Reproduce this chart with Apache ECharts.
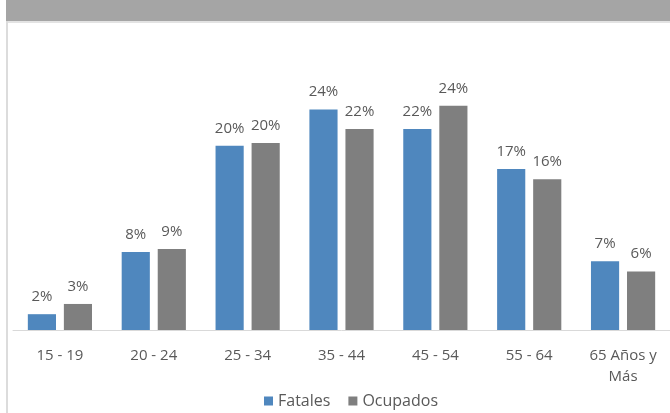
<!DOCTYPE html>
<html>
<head>
<meta charset="utf-8">
<script src="https://cdn.jsdelivr.net/npm/echarts@6/dist/echarts.min.js"></script>
<style>
html,body{margin:0;padding:0;background:#fff;}
#chart{width:670px;height:413px;}
</style>
</head>
<body>
<div id="chart"></div>
<script>
var categories = ['15 - 19', '20 - 24', '25 - 34', '35 - 44', '45 - 54', '55 - 64', '65 Años y\nMás'];
var fatales = [1.7, 8.4, 19.8, 23.7, 21.6, 17.3, 7.4];
var ocupados = [2.8, 8.7, 20.1, 21.6, 24.1, 16.2, 6.3];
var seriesNames = ['Fatales', 'Ocupados'];

var FONT = '"Open Sans", sans-serif';
var chart = echarts.init(document.getElementById('chart'));
function pct(p) { return Math.round(p.value) + '%'; }
chart.setOption({
  animation: false,
  backgroundColor: '#ffffff',
  graphic: [
    { type: 'rect', shape: { x: 6, y: 0, width: 664, height: 21 }, style: { fill: '#a5a5a5' } },
    { type: 'rect', shape: { x: 6, y: 21, width: 664, height: 2 }, style: { fill: '#e3e3e3' } },
    { type: 'rect', shape: { x: 6, y: 21, width: 2, height: 392 }, style: { fill: '#dcdcdc' } }
  ],
  legend: {
    data: seriesNames,
    left: 259,
    top: 388,
    itemWidth: 9,
    itemHeight: 9,
    itemGap: 18,
    icon: 'rect',
    textStyle: { color: '#595959', fontSize: 16, fontFamily: FONT }
  },
  grid: { left: 13, right: 0, top: 51, bottom: 83, containLabel: false },
  xAxis: {
    type: 'category',
    data: categories,
    axisLine: { lineStyle: { color: '#d9d9d9', width: 1 } },
    axisTick: { show: false },
    axisLabel: { color: '#595959', fontSize: 15, fontFamily: FONT, margin: 15, lineHeight: 21, interval: 0 }
  },
  yAxis: {
    type: 'value', min: 0, max: 30, show: false,
    splitLine: { show: false }
  },
  series: [
    {
      name: seriesNames[0], type: 'bar', data: fatales,
      barWidth: '30%', barGap: '28%',
      itemStyle: { color: '#4f87be' },
      label: { show: true, position: 'top', distance: 10, formatter: pct, color: '#595959', fontSize: 15, fontFamily: FONT }
    },
    {
      name: seriesNames[1], type: 'bar', data: ocupados,
      barWidth: '30%', barGap: '28%',
      itemStyle: { color: '#7f7f7f' },
      label: { show: true, position: 'top', distance: 10, formatter: pct, color: '#595959', fontSize: 15, fontFamily: FONT }
    }
  ]
});
</script>
</body>
</html>
